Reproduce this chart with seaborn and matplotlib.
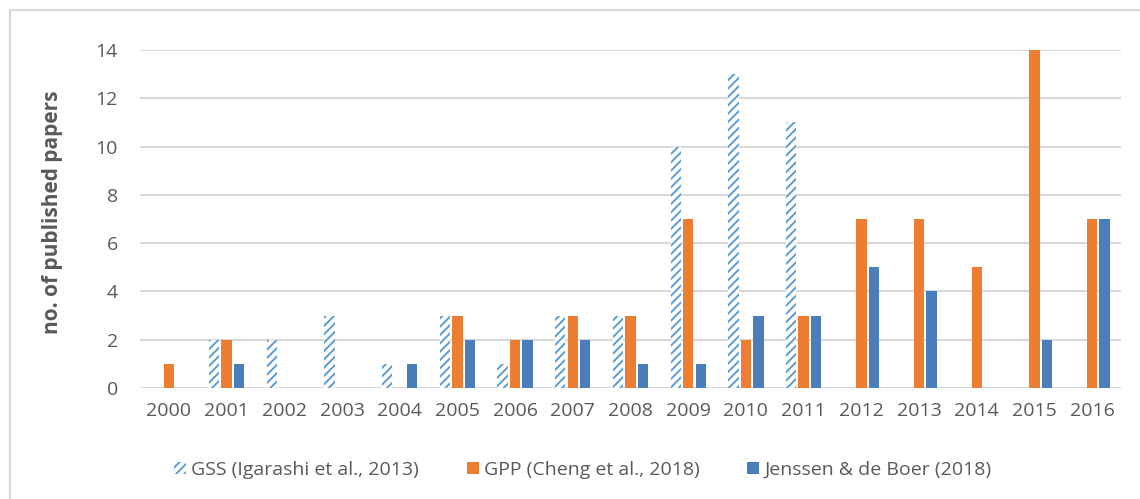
import matplotlib
matplotlib.use("Agg")
import matplotlib.pyplot as plt
from matplotlib.patches import Patch, Rectangle
import pandas as pd
import seaborn as sns

years = [str(y) for y in range(2000, 2017)]
gss = [0, 2, 2, 3, 1, 3, 1, 3, 3, 10, 13, 11, 0, 0, 0, 0, 0]
gpp = [1, 2, 0, 0, 0, 3, 2, 3, 3, 7, 2, 3, 7, 7, 5, 14, 7]
jenssen = [0, 1, 0, 0, 1, 2, 2, 2, 1, 1, 3, 3, 5, 4, 0, 2, 7]
series_names = ["GSS (Igarashi et al., 2013)", "GPP (Cheng et al., 2018)",
                "Jenssen & de Boer (2018)"]
y_ticks = [0, 2, 4, 6, 8, 10, 12, 14]

TEXT = "#595959"
GRID = "#D9D9D9"
HATCH_BLUE = "#5B9BD5"
ORANGE = "#ED7D31"
DARK_BLUE = "#4A7EBB"

sns.set_theme(style="white")
plt.rcParams["font.family"] = ["Open Sans", "DejaVu Sans"]
plt.rcParams["hatch.linewidth"] = 1.4

df = pd.DataFrame({
    "year": years * 3,
    "papers": gss + gpp + jenssen,
    "series": [series_names[0]] * len(years) + [series_names[1]] * len(years)
              + [series_names[2]] * len(years),
})

fig = plt.figure(figsize=(11.4, 4.99), dpi=100)
ax = fig.add_axes([140 / 1140, 1 - 388 / 499, 981 / 1140, 338 / 499])

sns.barplot(data=df, x="year", y="papers", hue="series", hue_order=series_names,
            palette=[HATCH_BLUE, ORANGE, DARK_BLUE], saturation=1, width=0.65, gap=0.17,
            linewidth=0, legend=False, ax=ax)

# diagonal hatched fill for the GSS series
for bar in ax.containers[0]:
    bar.set_facecolor("white")
    bar.set_edgecolor(HATCH_BLUE)
    bar.set_hatch("////")
    bar.set_linewidth(0)

ax.set_xlim(-0.5, len(years) - 0.5)
ax.set_ylim(0, 14)
ax.set_yticks(y_ticks)
ax.set_yticklabels([str(t) for t in y_ticks])
ax.grid(axis="y", color=GRID, linewidth=1.5)
ax.set_axisbelow(True)
for s in ax.spines.values():
    s.set_visible(False)
ax.tick_params(axis="both", length=0, labelsize=14, labelcolor=TEXT)
ax.tick_params(axis="x", pad=10)
ax.tick_params(axis="y", pad=16)
ax.set_xlabel("")
ax.set_ylabel("no. of published papers", fontsize=15, fontweight="bold", color=TEXT)
ax.yaxis.set_label_coords(-0.079, 0.52)

handles = [
    Patch(facecolor="white", edgecolor=HATCH_BLUE, hatch="////", linewidth=0),
    Patch(facecolor=ORANGE, linewidth=0),
    Patch(facecolor=DARK_BLUE, linewidth=0),
]
leg = fig.legend(handles, series_names, loc="center", bbox_to_anchor=(583 / 1140, 1 - 470 / 499),
                 ncol=3, frameon=False, fontsize=14, handlelength=0.62, handleheight=0.62,
                 handletextpad=0.26, columnspacing=2.45)
for t in leg.get_texts():
    t.set_color(TEXT)

# chart area frame
fig.patches.append(Rectangle((10 / 1140, -0.1), 1.2, 1 - 10 / 499 + 0.1,
                             transform=fig.transFigure, fill=False,
                             edgecolor=GRID, linewidth=1.5))

fig.savefig("out.png", dpi=100)
